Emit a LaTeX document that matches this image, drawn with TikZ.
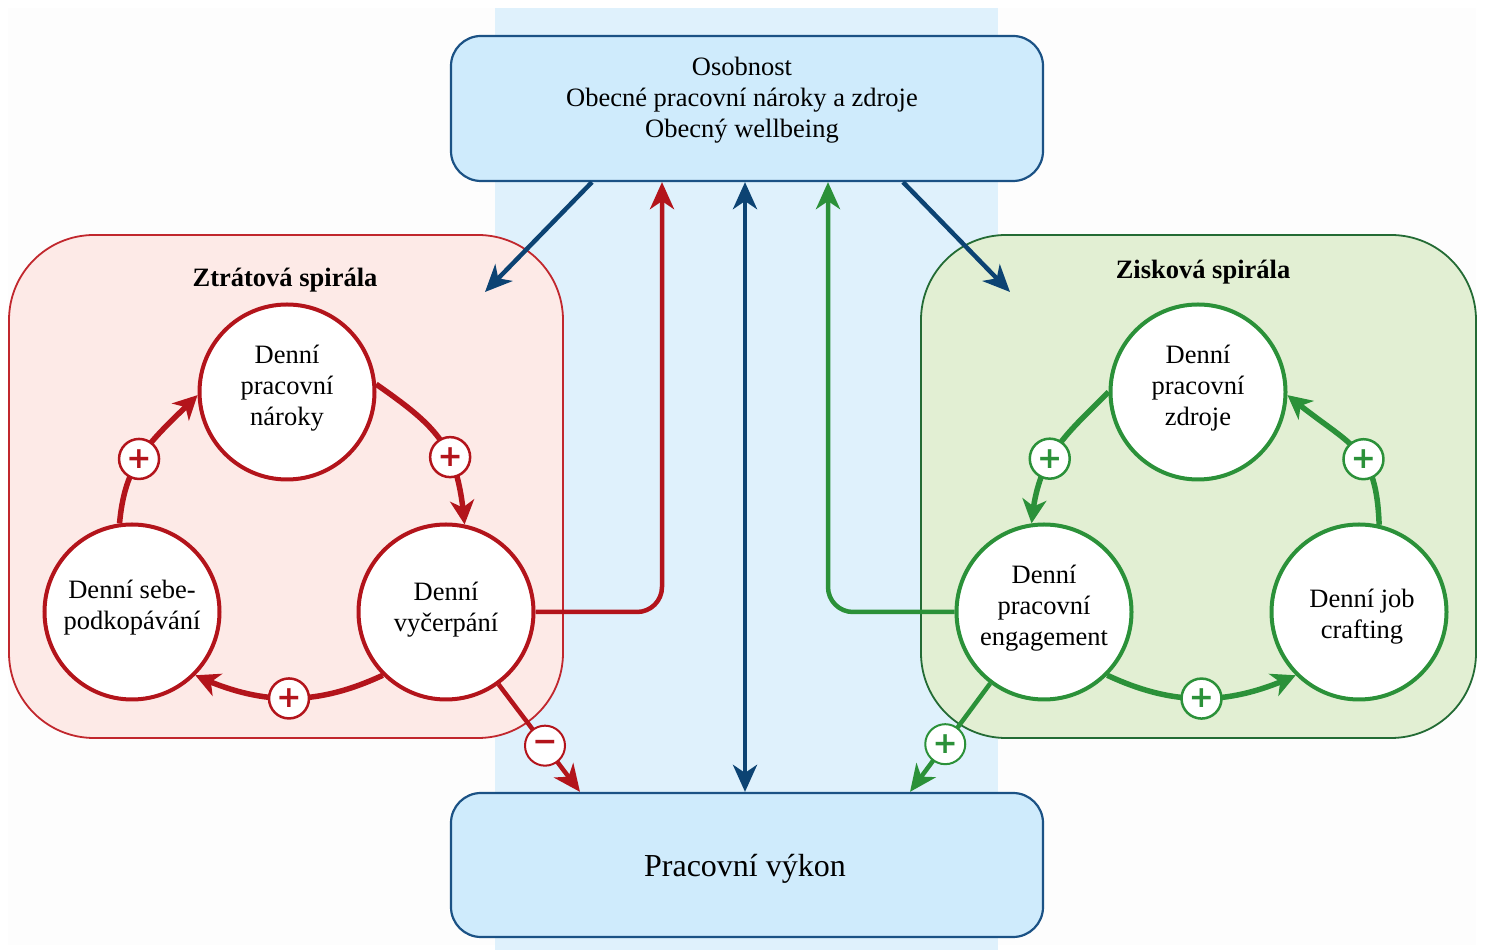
\documentclass[tikz,border=0pt]{standalone}
\usepackage{fontspec}
\setmainfont{Liberation Serif}
\newfontfamily\badgefont{DejaVu Sans}
\usetikzlibrary{arrows.meta,bending}
\definecolor{redline}{HTML}{B3141B}
\definecolor{redfill}{HTML}{FDEAE7}
\definecolor{redborder}{HTML}{C1272D}
\definecolor{greenline}{HTML}{2B9139}
\definecolor{greenfill}{HTML}{E2EFD3}
\definecolor{greenborder}{HTML}{236B34}
\definecolor{blueline}{HTML}{0C4373}
\definecolor{boxfill}{HTML}{CFEBFC}
\definecolor{boxborder}{HTML}{1B5285}
\definecolor{bandfill}{HTML}{DFF1FC}
\definecolor{bgfill}{HTML}{FDFDFD}
\begin{document}
\begin{tikzpicture}[x=1pt,y=1pt,
  txt/.style={font=\fontsize{26.5}{31}\selectfont, align=center},
  region/.style={rectangle, rounded corners=85pt, line width=1.8pt, inner sep=0pt},
  bigbox/.style={rectangle, rounded corners=30pt, draw=boxborder, fill=boxfill, line width=2.2pt, minimum width=592pt, inner sep=0pt},
  circnode/.style={circle, minimum size=175pt, inner sep=0pt, fill=white, line width=4pt},
  badge/.style={circle, minimum size=40pt, inner sep=0pt, fill=white, line width=2.5pt, font=\badgefont\bfseries\fontsize{30}{30}\selectfont},
  redbadge/.style={badge, draw=redline, text=redline},
  greenbadge/.style={badge, draw=greenline, text=greenline},
  redloop/.style={draw=redline, line width=5.5pt, -{Stealth[length=24pt,width=24pt,inset=7pt]}},
  greenloop/.style={draw=greenline, line width=5.5pt, -{Stealth[length=24pt,width=24pt,inset=7pt]}},
  bluearrow/.style={draw=blueline, line width=4.5pt, -{Stealth[length=27pt,width=24pt,inset=8pt]}},
  redarrow/.style={draw=redline, line width=4.5pt, rounded corners=25pt, -{Stealth[length=27pt,width=24pt,inset=8pt]}},
  greenarrow/.style={draw=greenline, line width=4.5pt, rounded corners=25pt, -{Stealth[length=27pt,width=24pt,inset=8pt]}},
  title/.style={font=\fontsize{26.5}{31}\selectfont\bfseries}
]
\useasboundingbox (0,0) rectangle (1486,950);
\fill[bgfill] (8,5) rectangle (1476,942);
\fill[bandfill] (495,0) rectangle (998,942);

% regions
\node[region, draw=redborder, fill=redfill, minimum width=554pt, minimum height=503pt] (lossreg) at (286,463.5) {};
\node[region, draw=greenborder, fill=greenfill, minimum width=555pt, minimum height=503pt] (gainreg) at (1198.5,463.5) {};
\node[title] (losstitle) at (285,670) {Ztrátová spirála};
\node[title] (gaintitle) at (1203,678) {Zisková spirála};

% top and bottom boxes
\node[bigbox, minimum height=145pt] (top) at (747,841.5) {};
\node[txt] (toptext) at (742,850) {Osobnost\\Obecné pracovní nároky a zdroje\\Obecný wellbeing};
\node[bigbox, minimum height=144pt] (bot) at (747,85) {};
\node[font=\fontsize{32}{36}\selectfont] (bottext) at (745,81) {Pracovní výkon};

% circles
\node[circnode, draw=redline] (rT) at (287,558) {};
\node[circnode, draw=redline] (rL) at (132,338) {};
\node[circnode, draw=redline] (rR) at (446,338) {};
\node[circnode, draw=greenline] (gT) at (1198,558) {};
\node[circnode, draw=greenline] (gL) at (1044,338) {};
\node[circnode, draw=greenline] (gR) at (1359,338) {};
\node[txt] (rTt) at (287,562) {Denní\\pracovní\\nároky};
\node[txt] (rLt) at (132,342) {Denní sebe-\\podkopávání};
\node[txt] (rRt) at (446,340) {Denní\\vyčerpání};
\node[txt] (gTt) at (1198,562) {Denní\\pracovní\\zdroje};
\node[txt] (gLt) at (1044,341.5) {Denní\\pracovní\\engagement};
\node[txt] (gRt) at (1362,333) {Denní job\\crafting};

% red loop
\draw[redloop] (rT.5) to[out=-35,in=95,looseness=1.2] node[redbadge,pos=0.62] (rb1) {+} (rR.78);
\draw[redloop] (rR.225) to[out=205,in=335] node[redbadge,pos=0.5] (rb2) {+} (rL.-45);
\draw[redloop] (rL.98) to[out=85,in=225,looseness=1.1] node[redbadge,pos=0.44] (rb3) {+} (rT.182);

% green loop
\draw[greenloop] (gT.180) to[out=225,in=85,looseness=1.1] node[greenbadge,pos=0.57] (gb1) {+} (gL.98);
\draw[greenloop] (gL.-45) to[out=-25,in=205] node[greenbadge,pos=0.5] (gb2) {+} (gR.225);
\draw[greenloop] (gR.77) to[out=92,in=-40,looseness=1.3] node[greenbadge,pos=0.4] (gb3) {+} (gT.-2);

% blue arrows
\coordinate (lossin) at (485,658);
\coordinate (gainin) at (1010,658);
\draw[bluearrow] ([xshift=-155pt]top.south) -- (lossin);
\draw[bluearrow] ([xshift=156pt]top.south) -- (gainin);
\draw[bluearrow, {Stealth[length=27pt,width=24pt,inset=8pt]}-{Stealth[length=27pt,width=24pt,inset=8pt]}] ([xshift=-2pt]top.south) -- ([xshift=-2pt]bot.north);

% feedback arrows
\draw[redarrow] (rR.east) -| ([xshift=-85pt]top.south);
\draw[greenarrow] (gL.west) -| ([xshift=81pt]top.south);

% to performance
\draw[redarrow] (rR.-54) -- node[redbadge,pos=0.57,line width=2pt] (rminus) {−} ([xshift=-167pt]bot.north);
\draw[greenarrow] (gL.-127) -- node[greenbadge,pos=0.56,line width=2pt] (gplus) {+} ([xshift=163pt]bot.north);
\end{tikzpicture}
\end{document}
